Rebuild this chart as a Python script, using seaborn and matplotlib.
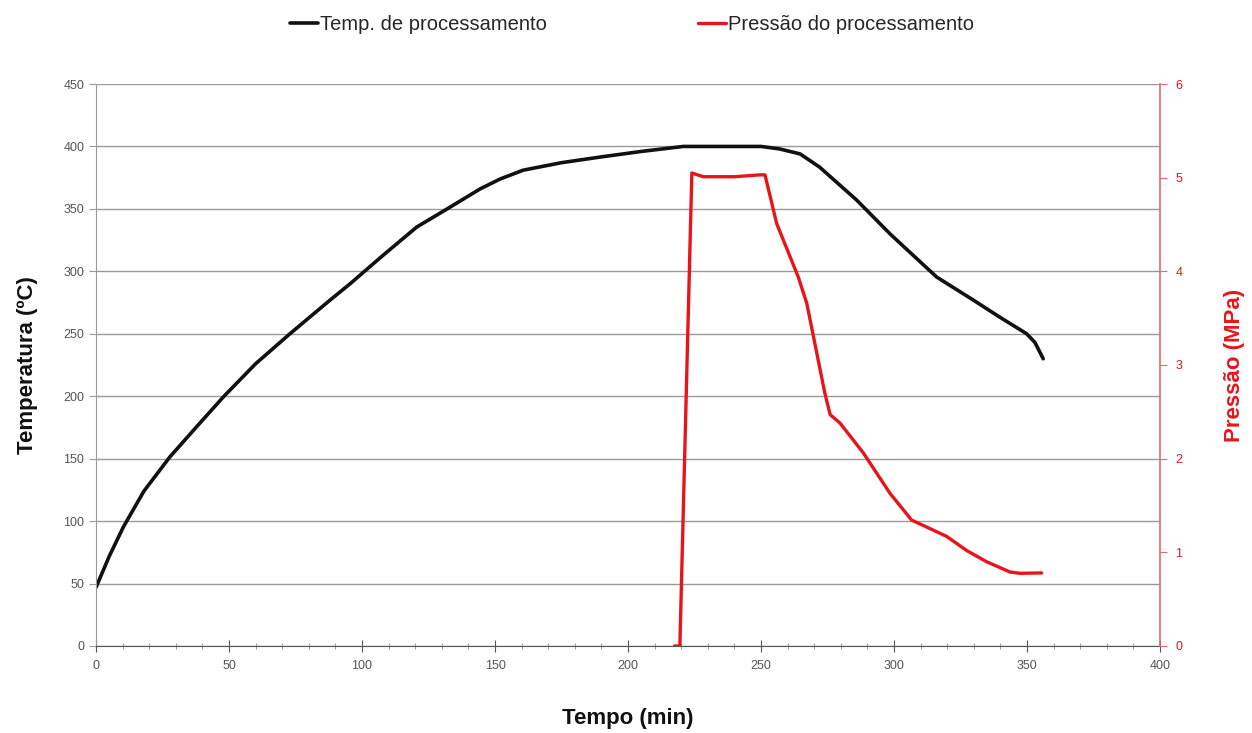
import matplotlib
matplotlib.use("Agg")
import matplotlib.pyplot as plt
from matplotlib.ticker import MultipleLocator
import seaborn as sns
import pandas as pd

# Processing temperature (°C) versus time (min)
temp_time = [0, 5, 10.3, 18, 27.8, 38, 47.9, 60, 72.9, 88, 95.5, 108, 120.6, 132,
             144.4, 152, 160.6, 175, 189.5, 205, 220.8, 235, 250, 257, 264.7, 272,
             286, 298.5, 316, 329.8, 340, 349.9, 353, 356.1]
temp_vals = [47, 72, 95.4, 124, 151.5, 176, 199.5, 226, 250, 277, 290, 313, 335.5, 350,
             366, 374, 381, 387, 391.5, 396, 400, 400, 400, 398, 394, 383.5,
             357, 330, 295.5, 277, 263, 250, 243, 230]

# Processing pressure (MPa) versus time (min)
pres_time = [217.5, 219.5, 224, 228.3, 240, 249.6, 251.5, 255.9, 264, 267.2, 274, 276,
             279.7, 288.5, 298.5, 306.6, 319.8, 327.3, 334.8, 343.6, 347.4, 355.5]
pres_vals = [0, 0, 5.05, 5.01, 5.01, 5.03, 5.03, 4.51, 3.94, 3.66, 2.70, 2.47,
             2.38, 2.06, 1.63, 1.345, 1.17, 1.02, 0.90, 0.79, 0.776, 0.78]

temp_label = "Temp. de processamento"
pres_label = "Pressão do processamento"

sns.set_style("white")
plt.rcParams["font.family"] = ["Liberation Sans", "DejaVu Sans"]

temp_df = pd.DataFrame({"Tempo": temp_time, "Temperatura": temp_vals})
pres_df = pd.DataFrame({"Tempo": pres_time, "Pressao": pres_vals})

fig = plt.figure(figsize=(12.52, 7.33), dpi=100)
ax = fig.add_axes([0.0767, 0.1187, 0.8498, 0.7667])
ax2 = ax.twinx()

sns.lineplot(data=temp_df, x="Tempo", y="Temperatura", ax=ax, color="#111111",
             linewidth=2.6, sort=False, label=temp_label, legend=False)
sns.lineplot(data=pres_df, x="Tempo", y="Pressao", ax=ax2, color="#e8141b",
             linewidth=2.4, sort=False, label=pres_label, legend=False)

grid_c = "#9a9a9a"
ax.set_xlim(0, 400)
ax.set_ylim(0, 450)
ax2.set_ylim(0, 6)
ax.xaxis.set_major_locator(MultipleLocator(50))
ax.xaxis.set_minor_locator(MultipleLocator(10))
ax.yaxis.set_major_locator(MultipleLocator(50))
ax2.yaxis.set_major_locator(MultipleLocator(1))

ax.grid(axis="y", color=grid_c, linewidth=1.0)
ax.grid(axis="x", visible=False)
ax2.grid(False)
ax.set_axisbelow(True)

for s in ["top"]:
    ax.spines[s].set_visible(False)
    ax2.spines[s].set_visible(False)
ax.spines["left"].set_color(grid_c)
ax.spines["bottom"].set_color("#555555")
ax2.spines["left"].set_visible(False)
ax2.spines["bottom"].set_visible(False)
ax.spines["right"].set_visible(False)
ax2.spines["right"].set_color("#e06a6a")
ax2.spines["right"].set_linewidth(1.2)

ax.tick_params(axis="y", which="major", length=5, color=grid_c, labelsize=9,
               labelcolor="#555555", direction="out", left=True)
ax.tick_params(axis="x", which="major", length=8, color="#555555", labelsize=9,
               labelcolor="#555555", direction="inout", bottom=True, pad=6)
ax.tick_params(axis="x", which="minor", length=4, color="#888888",
               direction="inout", bottom=True)
ax2.tick_params(axis="y", which="major", length=5, color="#e06a6a", labelsize=9,
                labelcolor="#e8141b", direction="out", right=True, pad=6)

ax.set_xlabel("Tempo (min)", fontsize=16, fontweight="bold", color="#111111", labelpad=26)
ax.set_ylabel("Temperatura (ºC)", fontsize=16, fontweight="bold", color="#111111", labelpad=18)
ax2.set_ylabel("Pressão (MPa)", fontsize=16, fontweight="bold", color="#e8141b", labelpad=30)

handles = ax.get_lines()[:1] + ax2.get_lines()[:1]
fig.legend(handles, [temp_label, pres_label], loc="upper center",
           bbox_to_anchor=(0.505, 1.004), ncol=2, frameon=False, fontsize=14.5,
           handlelength=1.4, handletextpad=0.1, columnspacing=7.5)

fig.savefig("out.png", dpi=100, facecolor="white")
